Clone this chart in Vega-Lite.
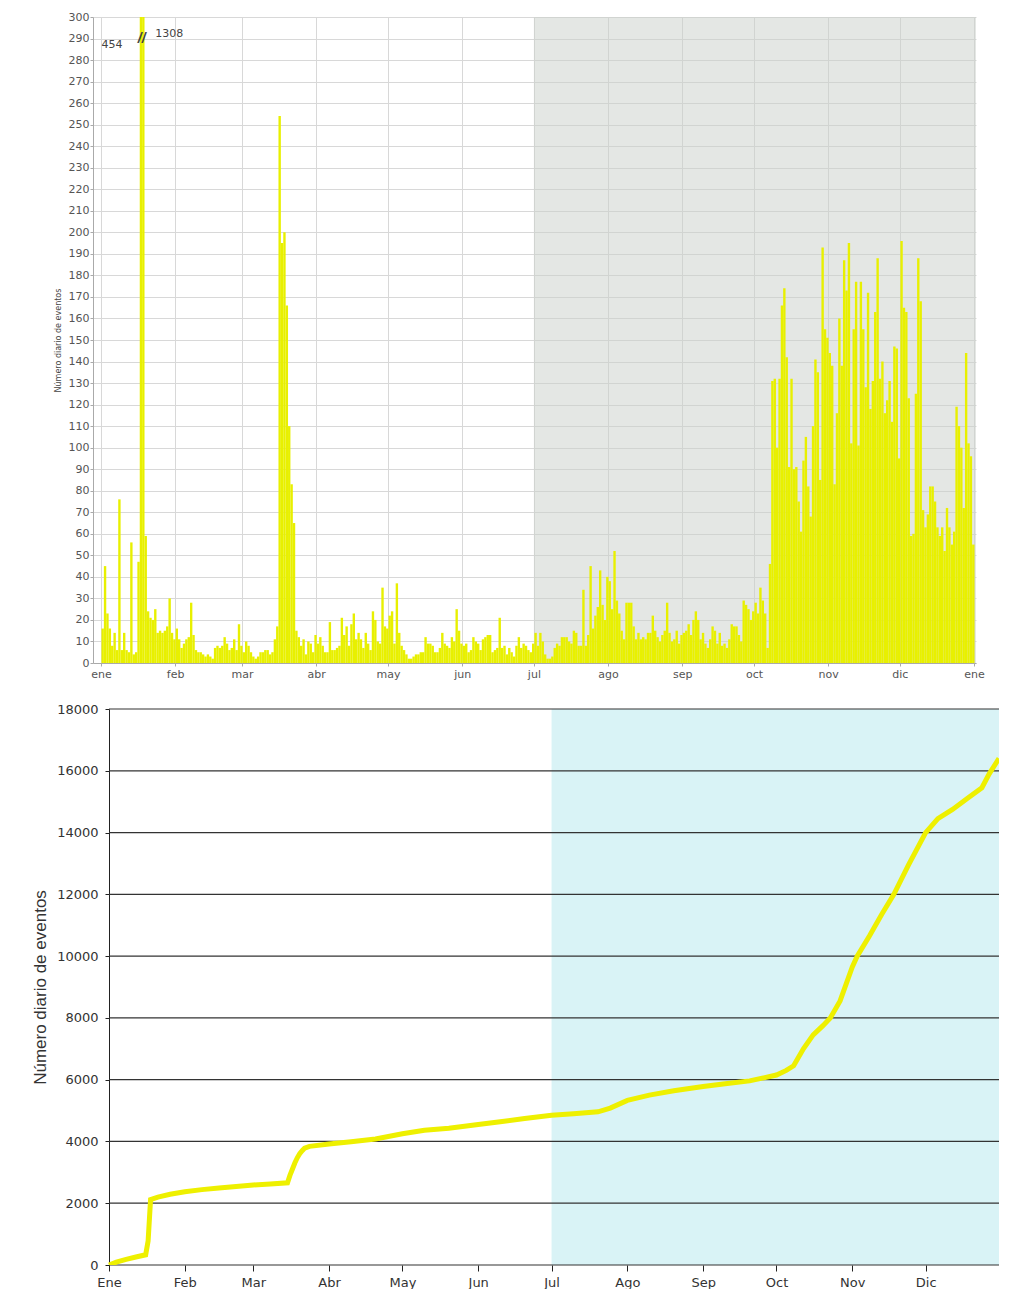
{
  "$schema": "https://vega.github.io/schema/vega-lite/v6.json",
  "background": "white",
  "padding": {"left": 31, "top": 11, "right": 0, "bottom": 0},
  "autosize": {"type": "pad"},
  "columns": 1,
  "bounds": "full",
  "spacing": 24,
  "config": {"font": "Liberation Sans", "view": {"stroke": null}},
  "datasets": {
    "shade": [{"s": "2010/07/01", "e": "2011/01/06"}],
    "shade2": [{"d": "2010/07/01", "e": "2010/12/31", "c": 0, "c2": 18000}],
    "grid": [
      {"d":"2010/01/01","e":"2010/12/31","c":0},{"d":"2010/01/01","e":"2010/12/31","c":2000},{"d":"2010/01/01","e":"2010/12/31","c":4000},{"d":"2010/01/01","e":"2010/12/31","c":6000},{"d":"2010/01/01","e":"2010/12/31","c":8000},{"d":"2010/01/01","e":"2010/12/31","c":10000},{"d":"2010/01/01","e":"2010/12/31","c":12000},{"d":"2010/01/01","e":"2010/12/31","c":14000},{"d":"2010/01/01","e":"2010/12/31","c":16000},{"d":"2010/01/01","e":"2010/12/31","c":18000}
    ],
    "daily": [
      {"d":"2010/01/01","v":16},{"d":"2010/01/02","v":45},{"d":"2010/01/03","v":23},{"d":"2010/01/04","v":16},{"d":"2010/01/05","v":8},{"d":"2010/01/06","v":14},{"d":"2010/01/07","v":6},{"d":"2010/01/08","v":76},{"d":"2010/01/09","v":6},{"d":"2010/01/10","v":14},{"d":"2010/01/11","v":6},{"d":"2010/01/12","v":5},{"d":"2010/01/13","v":56},{"d":"2010/01/14","v":4},{"d":"2010/01/15","v":5},{"d":"2010/01/16","v":47},{"d":"2010/01/17","v":454},{"d":"2010/01/18","v":1308},{"d":"2010/01/19","v":59},{"d":"2010/01/20","v":24},{"d":"2010/01/21","v":21},{"d":"2010/01/22","v":20},{"d":"2010/01/23","v":25},{"d":"2010/01/24","v":14},{"d":"2010/01/25","v":15},{"d":"2010/01/26","v":14},{"d":"2010/01/27","v":15},{"d":"2010/01/28","v":17},{"d":"2010/01/29","v":30},{"d":"2010/01/30","v":14},{"d":"2010/01/31","v":11},
      {"d":"2010/02/01","v":16},{"d":"2010/02/02","v":11},{"d":"2010/02/03","v":7},{"d":"2010/02/04","v":9},{"d":"2010/02/05","v":11},{"d":"2010/02/06","v":12},{"d":"2010/02/07","v":28},{"d":"2010/02/08","v":13},{"d":"2010/02/09","v":6},{"d":"2010/02/10","v":5},{"d":"2010/02/11","v":5},{"d":"2010/02/12","v":4},{"d":"2010/02/13","v":3},{"d":"2010/02/14","v":4},{"d":"2010/02/15","v":3},{"d":"2010/02/16","v":2},{"d":"2010/02/17","v":7},{"d":"2010/02/18","v":8},{"d":"2010/02/19","v":7},{"d":"2010/02/20","v":8},{"d":"2010/02/21","v":12},{"d":"2010/02/22","v":9},{"d":"2010/02/23","v":6},{"d":"2010/02/24","v":7},{"d":"2010/02/25","v":11},{"d":"2010/02/26","v":6},{"d":"2010/02/27","v":18},{"d":"2010/02/28","v":8},
      {"d":"2010/03/01","v":5},{"d":"2010/03/02","v":10},{"d":"2010/03/03","v":8},{"d":"2010/03/04","v":5},{"d":"2010/03/05","v":3},{"d":"2010/03/06","v":2},{"d":"2010/03/07","v":3},{"d":"2010/03/08","v":5},{"d":"2010/03/09","v":5},{"d":"2010/03/10","v":6},{"d":"2010/03/11","v":6},{"d":"2010/03/12","v":4},{"d":"2010/03/13","v":5},{"d":"2010/03/14","v":11},{"d":"2010/03/15","v":17},{"d":"2010/03/16","v":254},{"d":"2010/03/17","v":195},{"d":"2010/03/18","v":200},{"d":"2010/03/19","v":166},{"d":"2010/03/20","v":110},{"d":"2010/03/21","v":83},{"d":"2010/03/22","v":65},{"d":"2010/03/23","v":15},{"d":"2010/03/24","v":12},{"d":"2010/03/25","v":8},{"d":"2010/03/26","v":11},{"d":"2010/03/27","v":4},{"d":"2010/03/28","v":10},{"d":"2010/03/29","v":9},{"d":"2010/03/30","v":5},{"d":"2010/03/31","v":13},
      {"d":"2010/04/01","v":9},{"d":"2010/04/02","v":12},{"d":"2010/04/03","v":8},{"d":"2010/04/04","v":5},{"d":"2010/04/05","v":5},{"d":"2010/04/06","v":19},{"d":"2010/04/07","v":6},{"d":"2010/04/08","v":6},{"d":"2010/04/09","v":7},{"d":"2010/04/10","v":8},{"d":"2010/04/11","v":21},{"d":"2010/04/12","v":13},{"d":"2010/04/13","v":17},{"d":"2010/04/14","v":8},{"d":"2010/04/15","v":18},{"d":"2010/04/16","v":23},{"d":"2010/04/17","v":11},{"d":"2010/04/18","v":14},{"d":"2010/04/19","v":11},{"d":"2010/04/20","v":7},{"d":"2010/04/21","v":14},{"d":"2010/04/22","v":9},{"d":"2010/04/23","v":6},{"d":"2010/04/24","v":24},{"d":"2010/04/25","v":20},{"d":"2010/04/26","v":10},{"d":"2010/04/27","v":9},{"d":"2010/04/28","v":35},{"d":"2010/04/29","v":17},{"d":"2010/04/30","v":16},
      {"d":"2010/05/01","v":22},{"d":"2010/05/02","v":24},{"d":"2010/05/03","v":9},{"d":"2010/05/04","v":37},{"d":"2010/05/05","v":14},{"d":"2010/05/06","v":8},{"d":"2010/05/07","v":6},{"d":"2010/05/08","v":4},{"d":"2010/05/09","v":2},{"d":"2010/05/10","v":2},{"d":"2010/05/11","v":3},{"d":"2010/05/12","v":4},{"d":"2010/05/13","v":4},{"d":"2010/05/14","v":5},{"d":"2010/05/15","v":5},{"d":"2010/05/16","v":12},{"d":"2010/05/17","v":9},{"d":"2010/05/18","v":9},{"d":"2010/05/19","v":8},{"d":"2010/05/20","v":5},{"d":"2010/05/21","v":5},{"d":"2010/05/22","v":7},{"d":"2010/05/23","v":14},{"d":"2010/05/24","v":9},{"d":"2010/05/25","v":8},{"d":"2010/05/26","v":7},{"d":"2010/05/27","v":12},{"d":"2010/05/28","v":10},{"d":"2010/05/29","v":25},{"d":"2010/05/30","v":15},{"d":"2010/05/31","v":9},
      {"d":"2010/06/01","v":8},{"d":"2010/06/02","v":9},{"d":"2010/06/03","v":5},{"d":"2010/06/04","v":6},{"d":"2010/06/05","v":12},{"d":"2010/06/06","v":10},{"d":"2010/06/07","v":9},{"d":"2010/06/08","v":6},{"d":"2010/06/09","v":11},{"d":"2010/06/10","v":12},{"d":"2010/06/11","v":13},{"d":"2010/06/12","v":13},{"d":"2010/06/13","v":5},{"d":"2010/06/14","v":6},{"d":"2010/06/15","v":7},{"d":"2010/06/16","v":21},{"d":"2010/06/17","v":7},{"d":"2010/06/18","v":8},{"d":"2010/06/19","v":4},{"d":"2010/06/20","v":7},{"d":"2010/06/21","v":5},{"d":"2010/06/22","v":3},{"d":"2010/06/23","v":8},{"d":"2010/06/24","v":12},{"d":"2010/06/25","v":7},{"d":"2010/06/26","v":9},{"d":"2010/06/27","v":8},{"d":"2010/06/28","v":6},{"d":"2010/06/29","v":5},{"d":"2010/06/30","v":9},
      {"d":"2010/07/01","v":14},{"d":"2010/07/02","v":8},{"d":"2010/07/03","v":14},{"d":"2010/07/04","v":10},{"d":"2010/07/05","v":4},{"d":"2010/07/06","v":2},{"d":"2010/07/07","v":2},{"d":"2010/07/08","v":3},{"d":"2010/07/09","v":7},{"d":"2010/07/10","v":9},{"d":"2010/07/11","v":8},{"d":"2010/07/12","v":12},{"d":"2010/07/13","v":12},{"d":"2010/07/14","v":12},{"d":"2010/07/15","v":10},{"d":"2010/07/16","v":9},{"d":"2010/07/17","v":15},{"d":"2010/07/18","v":14},{"d":"2010/07/19","v":8},{"d":"2010/07/20","v":8},{"d":"2010/07/21","v":34},{"d":"2010/07/22","v":8},{"d":"2010/07/23","v":13},{"d":"2010/07/24","v":45},{"d":"2010/07/25","v":16},{"d":"2010/07/26","v":22},{"d":"2010/07/27","v":26},{"d":"2010/07/28","v":43},{"d":"2010/07/29","v":27},{"d":"2010/07/30","v":20},{"d":"2010/07/31","v":40},
      {"d":"2010/08/01","v":38},{"d":"2010/08/02","v":25},{"d":"2010/08/03","v":52},{"d":"2010/08/04","v":29},{"d":"2010/08/05","v":23},{"d":"2010/08/06","v":15},{"d":"2010/08/07","v":11},{"d":"2010/08/08","v":28},{"d":"2010/08/09","v":28},{"d":"2010/08/10","v":28},{"d":"2010/08/11","v":17},{"d":"2010/08/12","v":11},{"d":"2010/08/13","v":14},{"d":"2010/08/14","v":11},{"d":"2010/08/15","v":12},{"d":"2010/08/16","v":11},{"d":"2010/08/17","v":14},{"d":"2010/08/18","v":14},{"d":"2010/08/19","v":22},{"d":"2010/08/20","v":15},{"d":"2010/08/21","v":12},{"d":"2010/08/22","v":10},{"d":"2010/08/23","v":13},{"d":"2010/08/24","v":15},{"d":"2010/08/25","v":28},{"d":"2010/08/26","v":14},{"d":"2010/08/27","v":10},{"d":"2010/08/28","v":11},{"d":"2010/08/29","v":15},{"d":"2010/08/30","v":9},{"d":"2010/08/31","v":13},
      {"d":"2010/09/01","v":14},{"d":"2010/09/02","v":15},{"d":"2010/09/03","v":18},{"d":"2010/09/04","v":13},{"d":"2010/09/05","v":20},{"d":"2010/09/06","v":24},{"d":"2010/09/07","v":20},{"d":"2010/09/08","v":11},{"d":"2010/09/09","v":14},{"d":"2010/09/10","v":9},{"d":"2010/09/11","v":7},{"d":"2010/09/12","v":11},{"d":"2010/09/13","v":17},{"d":"2010/09/14","v":15},{"d":"2010/09/15","v":9},{"d":"2010/09/16","v":14},{"d":"2010/09/17","v":8},{"d":"2010/09/18","v":9},{"d":"2010/09/19","v":7},{"d":"2010/09/20","v":11},{"d":"2010/09/21","v":18},{"d":"2010/09/22","v":17},{"d":"2010/09/23","v":17},{"d":"2010/09/24","v":13},{"d":"2010/09/25","v":10},{"d":"2010/09/26","v":29},{"d":"2010/09/27","v":27},{"d":"2010/09/28","v":25},{"d":"2010/09/29","v":20},{"d":"2010/09/30","v":24},
      {"d":"2010/10/01","v":28},{"d":"2010/10/02","v":23},{"d":"2010/10/03","v":35},{"d":"2010/10/04","v":29},{"d":"2010/10/05","v":23},{"d":"2010/10/06","v":7},{"d":"2010/10/07","v":46},{"d":"2010/10/08","v":131},{"d":"2010/10/09","v":132},{"d":"2010/10/10","v":100},{"d":"2010/10/11","v":132},{"d":"2010/10/12","v":166},{"d":"2010/10/13","v":174},{"d":"2010/10/14","v":142},{"d":"2010/10/15","v":91},{"d":"2010/10/16","v":132},{"d":"2010/10/17","v":90},{"d":"2010/10/18","v":91},{"d":"2010/10/19","v":75},{"d":"2010/10/20","v":61},{"d":"2010/10/21","v":94},{"d":"2010/10/22","v":105},{"d":"2010/10/23","v":82},{"d":"2010/10/24","v":68},{"d":"2010/10/25","v":110},{"d":"2010/10/26","v":141},{"d":"2010/10/27","v":135},{"d":"2010/10/28","v":85},{"d":"2010/10/29","v":193},{"d":"2010/10/30","v":155},{"d":"2010/10/31","v":151},
      {"d":"2010/11/01","v":144},{"d":"2010/11/02","v":138},{"d":"2010/11/03","v":83},{"d":"2010/11/04","v":116},{"d":"2010/11/05","v":160},{"d":"2010/11/06","v":138},{"d":"2010/11/07","v":187},{"d":"2010/11/08","v":173},{"d":"2010/11/09","v":195},{"d":"2010/11/10","v":102},{"d":"2010/11/11","v":155},{"d":"2010/11/12","v":177},{"d":"2010/11/13","v":101},{"d":"2010/11/14","v":177},{"d":"2010/11/15","v":155},{"d":"2010/11/16","v":128},{"d":"2010/11/17","v":172},{"d":"2010/11/18","v":118},{"d":"2010/11/19","v":131},{"d":"2010/11/20","v":163},{"d":"2010/11/21","v":188},{"d":"2010/11/22","v":132},{"d":"2010/11/23","v":140},{"d":"2010/11/24","v":116},{"d":"2010/11/25","v":122},{"d":"2010/11/26","v":131},{"d":"2010/11/27","v":112},{"d":"2010/11/28","v":147},{"d":"2010/11/29","v":146},{"d":"2010/11/30","v":95},
      {"d":"2010/12/01","v":196},{"d":"2010/12/02","v":165},{"d":"2010/12/03","v":163},{"d":"2010/12/04","v":123},{"d":"2010/12/05","v":59},{"d":"2010/12/06","v":60},{"d":"2010/12/07","v":125},{"d":"2010/12/08","v":188},{"d":"2010/12/09","v":168},{"d":"2010/12/10","v":71},{"d":"2010/12/11","v":63},{"d":"2010/12/12","v":69},{"d":"2010/12/13","v":82},{"d":"2010/12/14","v":82},{"d":"2010/12/15","v":75},{"d":"2010/12/16","v":63},{"d":"2010/12/17","v":59},{"d":"2010/12/18","v":63},{"d":"2010/12/19","v":52},{"d":"2010/12/20","v":72},{"d":"2010/12/21","v":63},{"d":"2010/12/22","v":55},{"d":"2010/12/23","v":61},{"d":"2010/12/24","v":119},{"d":"2010/12/25","v":110},{"d":"2010/12/26","v":100},{"d":"2010/12/27","v":72},{"d":"2010/12/28","v":144},{"d":"2010/12/29","v":102},{"d":"2010/12/30","v":96},{"d":"2010/12/31","v":55}
    ],
    "cum": [
      {"d":"2010/01/01","c":0},{"d":"2010/01/04","c":90},{"d":"2010/01/08","c":180},{"d":"2010/01/12","c":260},{"d":"2010/01/16","c":330},{"d":"2010/01/17","c":780},{"d":"2010/01/18","c":2120},{"d":"2010/01/21","c":2200},{"d":"2010/01/26","c":2290},{"d":"2010/02/01","c":2370},{"d":"2010/02/08","c":2440},{"d":"2010/02/15","c":2490},{"d":"2010/02/22","c":2540},{"d":"2010/03/01","c":2590},{"d":"2010/03/08","c":2620},{"d":"2010/03/15","c":2660},{"d":"2010/03/16","c":2900},{"d":"2010/03/17","c":3100},{"d":"2010/03/18","c":3300},{"d":"2010/03/19","c":3470},{"d":"2010/03/20","c":3600},{"d":"2010/03/21","c":3700},{"d":"2010/03/22","c":3780},{"d":"2010/03/24","c":3840},{"d":"2010/04/01","c":3920},{"d":"2010/04/10","c":3990},{"d":"2010/04/20","c":4080},{"d":"2010/05/01","c":4250},{"d":"2010/05/10","c":4360},{"d":"2010/05/20","c":4430},{"d":"2010/06/01","c":4550},{"d":"2010/06/10","c":4640},{"d":"2010/06/20","c":4740},{"d":"2010/07/01","c":4850},{"d":"2010/07/10","c":4900},{"d":"2010/07/20","c":4960},{"d":"2010/07/25","c":5080},{"d":"2010/08/01","c":5330},{"d":"2010/08/10","c":5500},{"d":"2010/08/20","c":5640},{"d":"2010/09/01","c":5780},{"d":"2010/09/10","c":5870},{"d":"2010/09/20","c":5960},{"d":"2010/10/01","c":6150},{"d":"2010/10/05","c":6300},{"d":"2010/10/08","c":6450},{"d":"2010/10/12","c":7000},{"d":"2010/10/16","c":7450},{"d":"2010/10/20","c":7750},{"d":"2010/10/23","c":8000},{"d":"2010/10/27","c":8550},{"d":"2010/11/01","c":9650},{"d":"2010/11/03","c":10000},{"d":"2010/11/08","c":10650},{"d":"2010/11/13","c":11350},{"d":"2010/11/18","c":12000},{"d":"2010/11/24","c":12950},{"d":"2010/12/01","c":14000},{"d":"2010/12/06","c":14450},{"d":"2010/12/12","c":14750},{"d":"2010/12/18","c":15100},{"d":"2010/12/24","c":15450},{"d":"2010/12/27","c":15900},{"d":"2010/12/31","c":16400}
    ],
    "notes": [
      {"d":"2010/01/05 14:00","v":287,"t":"454"},
      {"d":"2010/01/29 12:00","v":292,"t":"1308"}
    ],
    "brk": [{"d":"2010/01/18 00:00","v":290,"t":"//"}]
  },
  "concat": [
    {
      "width": 883,
      "height": 646,
      "layer": [
        {
          "data": {"name": "shade"},
          "mark": {"type": "rect", "color": "#c9d0c9", "opacity": 0.5, "clip": true},
          "encoding": {
            "x": {
              "field": "s", "type": "temporal",
              "scale": {"domain": [{"year": 2009, "month": 12, "date": 28, "hours": 16}, {"year": 2011, "month": 1, "date": 1, "hours": 20}], "nice": false},
              "axis": {
                "title": null,
                "values": [{"year":2010,"month":1,"date":1},{"year":2010,"month":2,"date":1},{"year":2010,"month":3,"date":1},{"year":2010,"month":4,"date":1},{"year":2010,"month":5,"date":1},{"year":2010,"month":6,"date":1},{"year":2010,"month":7,"date":1},{"year":2010,"month":8,"date":1},{"year":2010,"month":9,"date":1},{"year":2010,"month":10,"date":1},{"year":2010,"month":11,"date":1},{"year":2010,"month":12,"date":1},{"year":2011,"month":1,"date":1}],
                "labelExpr": "['ene','feb','mar','abr','may','jun','jul','ago','sep','oct','nov','dic'][month(datum.value)]",
                "labelFont": "DejaVu Sans", "labelFontSize": 11, "labelColor": "#555", "labelPadding": 2,
                "tickSize": 3, "tickColor": "#aaa", "domainColor": "#aaa",
                "grid": true, "gridColor": "#d8d8d8", "labelOverlap": false
              }
            },
            "x2": {"field": "e"}
          }
        },
        {
          "data": {"name": "daily"},
          "mark": {"type": "bar", "color": "#e8f000", "clip": true, "binSpacing": 0},
          "encoding": {
            "x": {
              "field": "d", "type": "temporal", "timeUnit": "yearmonthdate",
              "scale": {"domain": [{"year": 2009, "month": 12, "date": 28, "hours": 16}, {"year": 2011, "month": 1, "date": 1, "hours": 20}], "nice": false},
              "axis": {
                "title": null,
                "values": [{"year":2010,"month":1,"date":1},{"year":2010,"month":2,"date":1},{"year":2010,"month":3,"date":1},{"year":2010,"month":4,"date":1},{"year":2010,"month":5,"date":1},{"year":2010,"month":6,"date":1},{"year":2010,"month":7,"date":1},{"year":2010,"month":8,"date":1},{"year":2010,"month":9,"date":1},{"year":2010,"month":10,"date":1},{"year":2010,"month":11,"date":1},{"year":2010,"month":12,"date":1},{"year":2011,"month":1,"date":1}],
                "labelExpr": "['ene','feb','mar','abr','may','jun','jul','ago','sep','oct','nov','dic'][month(datum.value)]",
                "labelFont": "DejaVu Sans", "labelFontSize": 11, "labelColor": "#555", "labelPadding": 2,
                "tickSize": 3, "tickColor": "#aaa", "domainColor": "#aaa",
                "grid": true, "gridColor": "#d8d8d8", "labelOverlap": false
              }
            },
            "y": {
              "field": "v", "type": "quantitative",
              "scale": {"domain": [0, 300], "nice": false},
              "axis": {
                "title": "Número diario de eventos",
                "values": [0,10,20,30,40,50,60,70,80,90,100,110,120,130,140,150,160,170,180,190,200,210,220,230,240,250,260,270,280,290,300],
                "labelFont": "DejaVu Sans", "labelFontSize": 11, "labelColor": "#555", "labelPadding": 1, "labelOverlap": false,
                "tickSize": 3, "tickColor": "#aaa", "domainColor": "#aaa",
                "grid": true, "gridColor": "#d8d8d8",
                "titleFont": "DejaVu Sans", "titleFontSize": 8, "titleFontWeight": "normal", "titleColor": "#444", "titlePadding": 6
              }
            }
          }
        },
        {
          "data": {"name": "notes"},
          "mark": {"type": "text", "font": "DejaVu Sans", "fontSize": 11, "color": "#444"},
          "encoding": {
            "x": {"field": "d", "type": "temporal"},
            "y": {
              "field": "v", "type": "quantitative",
              "axis": {
                "title": "Número diario de eventos",
                "values": [0,10,20,30,40,50,60,70,80,90,100,110,120,130,140,150,160,170,180,190,200,210,220,230,240,250,260,270,280,290,300],
                "labelFont": "DejaVu Sans", "labelFontSize": 11, "labelColor": "#555", "labelPadding": 1, "labelOverlap": false,
                "tickSize": 3, "tickColor": "#aaa", "domainColor": "#aaa",
                "grid": true, "gridColor": "#d8d8d8",
                "titleFont": "DejaVu Sans", "titleFontSize": 8, "titleFontWeight": "normal", "titleColor": "#444", "titlePadding": 6
              }
            },
            "text": {"field": "t"}
          }
        },
        {
          "data": {"name": "brk"},
          "mark": {"type": "text", "fontSize": 14, "fontWeight": "bold", "color": "#444", "fontStyle": "italic"},
          "encoding": {
            "x": {"field": "d", "type": "temporal"},
            "y": {
              "field": "v", "type": "quantitative",
              "axis": {
                "title": "Número diario de eventos",
                "values": [0,10,20,30,40,50,60,70,80,90,100,110,120,130,140,150,160,170,180,190,200,210,220,230,240,250,260,270,280,290,300],
                "labelFont": "DejaVu Sans", "labelFontSize": 11, "labelColor": "#555", "labelPadding": 1, "labelOverlap": false,
                "tickSize": 3, "tickColor": "#aaa", "domainColor": "#aaa",
                "grid": true, "gridColor": "#d8d8d8",
                "titleFont": "DejaVu Sans", "titleFontSize": 8, "titleFontWeight": "normal", "titleColor": "#444", "titlePadding": 6
              }
            },
            "text": {"field": "t"}
          }
        }
      ]
    },
    {
      "width": 906,
      "height": 556,
      "encoding": {
        "x": {
          "field": "d", "type": "temporal",
          "scale": {"domain": [{"year": 2009, "month": 12, "date": 25, "hours": 11}, {"year": 2010, "month": 12, "date": 31}], "nice": false},
          "axis": {
            "title": null,
            "values": [{"year":2010,"month":1,"date":1},{"year":2010,"month":2,"date":1},{"year":2010,"month":3,"date":1},{"year":2010,"month":4,"date":1},{"year":2010,"month":5,"date":1},{"year":2010,"month":6,"date":1},{"year":2010,"month":7,"date":1},{"year":2010,"month":8,"date":1},{"year":2010,"month":9,"date":1},{"year":2010,"month":10,"date":1},{"year":2010,"month":11,"date":1},{"year":2010,"month":12,"date":1}],
            "labelExpr": "['Ene','Feb','Mar','Abr','May','Jun','Jul','Ago','Sep','Oct','Nov','Dic'][month(datum.value)]",
            "labelFont": "DejaVu Sans", "labelFontSize": 13, "labelColor": "#333", "labelPadding": 5,
            "tickSize": 6, "tickColor": "#222", "domain": false,
            "grid": false, "labelOverlap": false
          }
        },
        "y": {
          "field": "c", "type": "quantitative",
          "scale": {"domain": [0, 18000], "nice": false},
          "axis": {
            "title": "Número diario de eventos",
            "values": [0,2000,4000,6000,8000,10000,12000,14000,16000,18000],
            "format": "d",
            "offset": -16,
            "labelFont": "DejaVu Sans", "labelFontSize": 13, "labelColor": "#333", "labelPadding": 7,
            "tickSize": 4, "tickColor": "#222", "domainColor": "#222",
            "grid": false,
            "titleFont": "Liberation Sans", "titleFontSize": 17, "titleFontWeight": "normal", "titleColor": "#333", "titlePadding": 7
          }
        }
      },
      "layer": [
        {
          "data": {"name": "shade2"},
          "mark": {"type": "rect", "color": "#d9f3f6"},
          "encoding": {"x2": {"field": "e"}, "y2": {"field": "c2"}}
        },
        {
          "data": {"name": "grid"},
          "mark": {"type": "rule", "color": "#333", "strokeWidth": 1.2},
          "encoding": {"x2": {"field": "e"}}
        },
        {
          "data": {"name": "cum"},
          "mark": {"type": "line", "color": "#eef000", "strokeWidth": 5, "clip": true},
          "encoding": {}
        }
      ]
    }
  ]
}
